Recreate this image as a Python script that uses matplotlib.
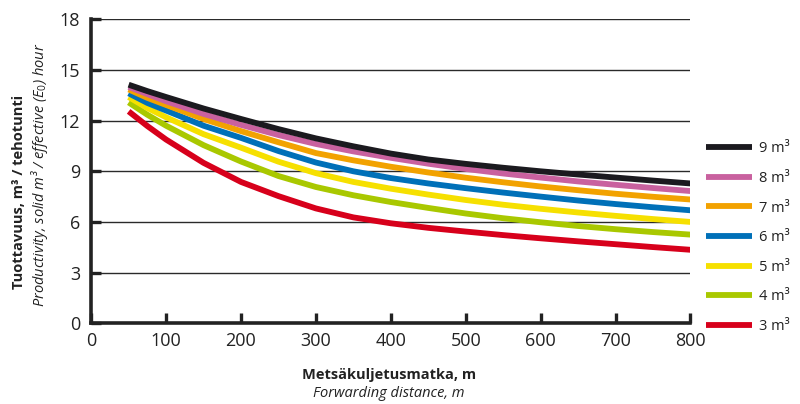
import numpy as np
import matplotlib
matplotlib.use("Agg")
import matplotlib.pyplot as plt

plt.rcParams['font.family'] = ['Open Sans', 'DejaVu Sans']
plt.rcParams['mathtext.fontset'] = 'custom'
plt.rcParams['mathtext.rm'] = 'Open Sans'
plt.rcParams['mathtext.it'] = 'Open Sans:italic'

# forwarding distance, m
distance = [50, 75, 100, 150, 200, 250, 300, 350, 400, 450, 500, 550, 600, 650, 700, 750, 800]

# productivity per load size, m3 / E0 hour
load_3 = [12.55, 11.68, 10.88, 9.50, 8.37, 7.53, 6.80, 6.27, 5.92, 5.65, 5.43, 5.22, 5.03, 4.85, 4.68, 4.51, 4.35]
load_4 = [13.08, 12.35, 11.70, 10.55, 9.58, 8.72, 8.07, 7.58, 7.18, 6.83, 6.50, 6.22, 5.98, 5.76, 5.57, 5.40, 5.25]
load_5 = [13.40, 12.75, 12.20, 11.20, 10.40, 9.57, 8.89, 8.37, 7.97, 7.62, 7.30, 7.02, 6.78, 6.56, 6.36, 6.17, 6.00]
load_6 = [13.62, 13.05, 12.60, 11.70, 10.98, 10.20, 9.52, 9.00, 8.60, 8.28, 8.00, 7.74, 7.50, 7.27, 7.06, 6.87, 6.69]
load_7 = [13.85, 13.35, 12.93, 12.10, 11.38, 10.72, 10.08, 9.65, 9.27, 8.93, 8.62, 8.35, 8.10, 7.88, 7.67, 7.49, 7.33]
load_8 = [14.00, 13.57, 13.15, 12.40, 11.75, 11.15, 10.62, 10.18, 9.80, 9.45, 9.14, 8.87, 8.63, 8.40, 8.20, 8.01, 7.83]
load_9 = [14.13, 13.75, 13.40, 12.72, 12.10, 11.50, 10.95, 10.48, 10.05, 9.70, 9.44, 9.21, 9.00, 8.81, 8.63, 8.45, 8.28]

series = [load_3, load_4, load_5, load_6, load_7, load_8, load_9]
labels = ['3 m³', '4 m³', '5 m³', '6 m³', '7 m³', '8 m³', '9 m³']
colors = ['#d7001b', '#a9c800', '#f6e000', '#0070b8', '#f2a200', '#c9619f', '#1b1a1f']

fig = plt.figure(figsize=(8.0, 4.04), dpi=100)
ax = fig.add_axes([0.114, 0.2, 0.749, 0.752])

for y, lab, c in zip(series, labels, colors):
    ax.plot(distance, y, color=c, lw=4.2, label=lab,
            solid_capstyle='butt', solid_joinstyle='round')

ax.set_xlim(0, 800)
ax.set_ylim(0, 18)
ax.set_xticks(np.arange(0, 801, 100))
ax.set_yticks(np.arange(0, 19, 3))

ax.grid(axis='y', color='#2a2a2a', lw=1.0)
ax.set_axisbelow(True)
for s in ['top', 'right']:
    ax.spines[s].set_visible(False)
for s in ['left', 'bottom']:
    ax.spines[s].set_linewidth(2.6)
    ax.spines[s].set_color('#222222')

ax.tick_params(axis='both', direction='in', length=7, width=2.4, color='#222222',
               labelsize=13, labelcolor='#222222')
ax.tick_params(axis='y', pad=8)
ax.tick_params(axis='x', pad=6)

# axis titles, Finnish in bold and English in italics
fig.text(0.024, 0.525, 'Tuottavuus, m³ / tehotunti', rotation=90, ha='center', va='center',
         fontsize=10.5, fontweight='bold', color='#222222')
fig.text(0.050, 0.567, 'Productivity, solid m³ / effective (E$_0$) hour', rotation=90,
         ha='center', va='center', fontsize=10.5, fontstyle='italic', color='#222222')
fig.text(0.486, 0.072, 'Metsäkuljetusmatka, m', ha='center', va='center',
         fontsize=10.5, fontweight='bold', color='#222222')
fig.text(0.486, 0.025, 'Forwarding distance, m', ha='center', va='center',
         fontsize=10.5, fontstyle='italic', color='#222222')

handles, labs = ax.get_legend_handles_labels()
leg = fig.legend(handles[::-1], labs[::-1], loc='upper left', bbox_to_anchor=(0.883, 0.65),
                 frameon=False, fontsize=10.5, handlelength=3.1, handletextpad=0.5,
                 labelspacing=1.0, borderpad=0, borderaxespad=0)
for t in leg.get_texts():
    t.set_color('#222222')

fig.savefig('out.png', dpi=100)
